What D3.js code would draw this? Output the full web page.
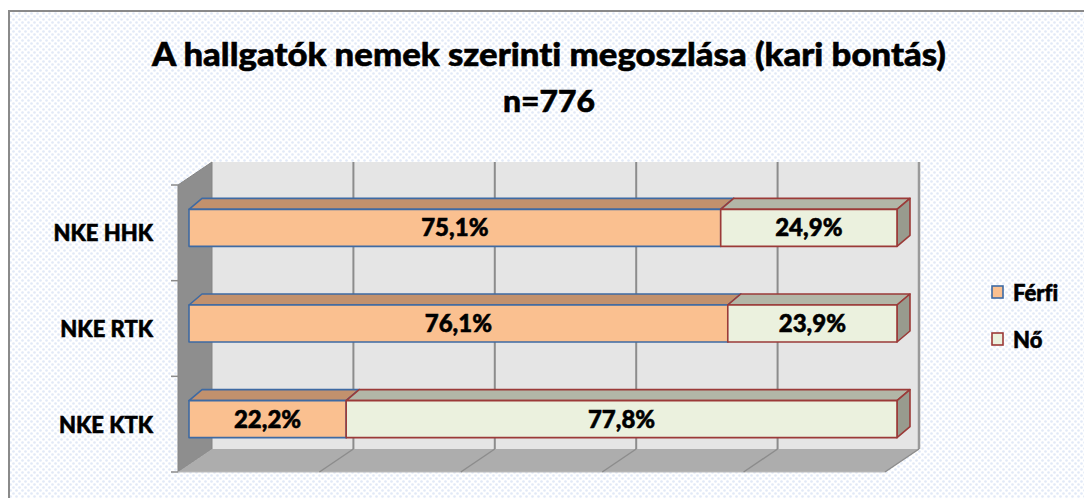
<!DOCTYPE html>
<html>
<head>
<meta charset="utf-8">
<script src="https://cdn.jsdelivr.net/npm/d3@7"></script>
<style>
html,body{margin:0;padding:0;background:#fff;}
svg{display:block;}
text{font-variant-ligatures:none;font-feature-settings:"liga" 0;}
</style>
</head>
<body>
<svg id="chart" width="1084" height="498"></svg>
<script>
// ---- data ----
const categories = ["NKE HHK", "NKE RTK", "NKE KTK"];
const seriesNames = ["Férfi", "Nő"];
const ferfiValues = [75.1, 76.1, 22.2];
const noValues = [24.9, 23.9, 77.8];
const xTickValues = [0, 20, 40, 60, 80, 100];
const titleLines = ["A hallgatók nemek szerinti megoszlása (kari bontás)", "n=776"];

// ---- styles ----
const FONT = "Lato, 'Open Sans', 'Liberation Sans', sans-serif";
const TXT_STROKE = 0.55;
const colors = {
  "Férfi": {front: "#FAC090", top: "#C2916D", side: "#B9865F", stroke: "#3E6AA3"},
  "Nő":    {front: "#EBF1DE", top: "#B2B6A7", side: "#989B8E", stroke: "#9B3A38"}
};

const svg = d3.select("#chart");
const defs = svg.append("defs");
const pat = defs.append("pattern").attr("id", "dots").attr("patternUnits", "userSpaceOnUse")
  .attr("width", 6).attr("height", 6);
pat.append("rect").attr("width", 6).attr("height", 6).attr("fill", "#ffffff");
pat.append("circle").attr("cx", 1.5).attr("cy", 1.5).attr("r", 1.3).attr("fill", "#e1e9f7");
pat.append("circle").attr("cx", 4.5).attr("cy", 4.5).attr("r", 1.3).attr("fill", "#e1e9f7");

// background + outer border
svg.append("rect").attr("x", 9).attr("y", 11).attr("width", 1200).attr("height", 600)
  .attr("fill", "url(#dots)").attr("stroke", "#8a8a8a").attr("stroke-width", 2);

// title
const title = svg.append("g").attr("font-family", FONT).attr("font-weight", 900)
  .attr("fill", "#000").attr("stroke", "#000").attr("stroke-width", TXT_STROKE).attr("text-anchor", "middle");
title.append("text").attr("x", 549).attr("y", 66).attr("font-size", 32)
  .attr("textLength", 794).attr("lengthAdjust", "spacingAndGlyphs").text(titleLines[0]);
title.append("text").attr("x", 549).attr("y", 112).attr("font-size", 30)
  .attr("textLength", 92).attr("lengthAdjust", "spacingAndGlyphs").text(titleLines[1]);

// ---- 3D frame geometry ----
const front = {x0: 178, x1: 885, y0: 185, y1: 472};
const depth = {dx: 34, dy: -23};
const wallScale = d3.scaleLinear().domain([0, 100]).range([front.x0 + depth.dx, front.x1 + depth.dx]);
const floorScale = d3.scaleLinear().domain([0, 100]).range([front.x0, front.x1]);
const yBand = d3.scaleBand().domain(categories).range([front.y0, front.y1]).padding(0);

const line = d3.line();
const bx0 = front.x0 + depth.dx, bx1 = front.x1 + depth.dx;
const by0 = front.y0 + depth.dy, by1 = front.y1 + depth.dy;

// back wall
svg.append("rect").attr("x", bx0).attr("y", by0).attr("width", bx1 - bx0).attr("height", by1 - by0)
  .attr("fill", "#E5E5E5");
svg.append("line").attr("x1", bx1).attr("x2", bx1).attr("y1", by0).attr("y2", by1)
  .attr("stroke", "#9a9a9a").attr("stroke-width", 2.5);
// left wall
svg.append("path").attr("d", line([[front.x0, front.y0], [bx0, by0], [bx0, by1], [front.x0, front.y1]]) + "Z")
  .attr("fill", "#8E8E8E").attr("stroke", "#858585").attr("stroke-width", 1);
// floor
svg.append("path").attr("d", line([[bx0, by1], [bx1, by1], [front.x1, front.y1], [front.x0, front.y1]]) + "Z")
  .attr("fill", "#ADADAD");
svg.append("line").attr("x1", front.x0).attr("x2", front.x1).attr("y1", front.y1).attr("y2", front.y1)
  .attr("stroke", "#bdbdbd").attr("stroke-width", 1);

// gridlines on back wall + floor
const grid = svg.append("g").attr("stroke", "#8c8c8c").attr("stroke-width", 2).attr("fill", "none");
xTickValues.filter(v => v > 0).forEach(v => {
  grid.append("line").attr("x1", wallScale(v)).attr("x2", wallScale(v)).attr("y1", by0).attr("y2", by1)
    .attr("stroke-width", v === 100 ? 0 : 2);
  grid.append("line").attr("x1", wallScale(v)).attr("y1", by1).attr("x2", floorScale(v)).attr("y2", front.y1)
    .attr("stroke-width", 1.5);
});

// category ticks on left
const tickYs = categories.map(c => yBand(c)).concat([front.y1]);
svg.append("g").selectAll("line").data(tickYs).join("line")
  .attr("x1", front.x0 - 7).attr("x2", front.x0).attr("y1", d => d).attr("y2", d => d)
  .attr("stroke", "#8c8c8c").attr("stroke-width", 1.5);

// category labels
svg.append("g").selectAll("text").data(categories).join("text")
  .attr("x", 153).attr("y", c => yBand(c) + yBand.bandwidth() / 2 + 8.5)
  .attr("text-anchor", "end").attr("font-family", FONT).attr("font-weight", 900)
  .attr("stroke", "#000").attr("stroke-width", TXT_STROKE)
  .attr("font-size", 22).attr("fill", "#000").text(c => c);

// ---- bars ----
const barX = d3.scaleLinear().domain([0, 100]).range([189, 897]);
const barH = 37;
const bd = {dx: 13, dy: -11};
const rows = categories.map((c, i) => ({cat: c, segs: [
  {name: seriesNames[0], v0: 0, v1: ferfiValues[i], val: ferfiValues[i]},
  {name: seriesNames[1], v0: ferfiValues[i], v1: ferfiValues[i] + noValues[i], val: noValues[i]}
]}));

const fmt = v => d3.format(".1f")(v).replace(".", ",") + "%";
const bars = svg.append("g");
rows.forEach(r => {
  const yt = yBand(r.cat) + yBand.bandwidth() / 2 - 5 - barH / 2;
  const yb = yt + barH;
  r.segs.forEach(s => {
    const x0 = barX(s.v0), x1 = barX(s.v1);
    const col = colors[s.name];
    const g = bars.append("g").attr("stroke", col.stroke).attr("stroke-width", 1.6).attr("stroke-linejoin", "round");
    g.append("path").attr("d", line([[x0, yt], [x0 + bd.dx, yt + bd.dy], [x1 + bd.dx, yt + bd.dy], [x1, yt]]) + "Z")
      .attr("fill", col.top);
    g.append("path").attr("d", line([[x1, yt], [x1 + bd.dx, yt + bd.dy], [x1 + bd.dx, yb + bd.dy], [x1, yb]]) + "Z")
      .attr("fill", col.side);
    g.append("rect").attr("x", x0).attr("y", yt).attr("width", x1 - x0).attr("height", barH)
      .attr("fill", col.front);
  });
  r.segs.forEach(s => {
    bars.append("text").attr("x", (barX(s.v0) + barX(s.v1)) / 2).attr("y", yt + barH / 2 + 8.5)
      .attr("text-anchor", "middle").attr("font-family", FONT).attr("font-weight", 900)
      .attr("stroke", "#000").attr("stroke-width", TXT_STROKE)
      .attr("font-size", 24).attr("fill", "#000").text(fmt(s.val));
  });
});

// ---- legend ----
const legend = svg.append("g");
seriesNames.forEach((n, i) => {
  const y = 286 + i * 47;
  legend.append("rect").attr("x", 992).attr("y", y).attr("width", 11).attr("height", 12)
    .attr("fill", colors[n].front).attr("stroke", colors[n].stroke).attr("stroke-width", 1.6);
  legend.append("text").attr("x", 1013).attr("y", y + 15).attr("font-family", FONT)
    .attr("stroke", "#000").attr("stroke-width", TXT_STROKE)
    .attr("font-weight", 900).attr("font-size", 22).attr("fill", "#000").text(n);
});
</script>
</body>
</html>
